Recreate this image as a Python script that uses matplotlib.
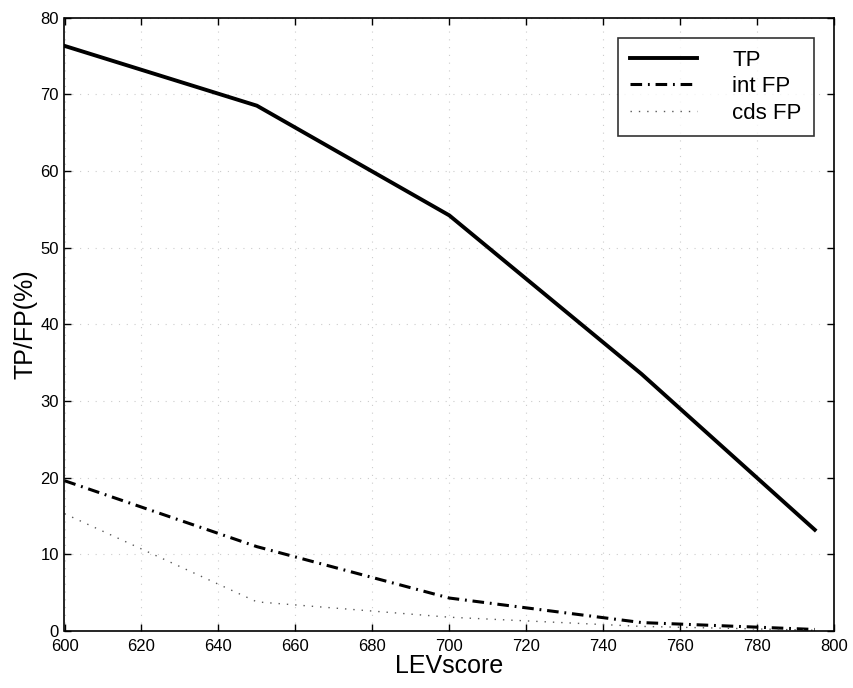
import matplotlib
matplotlib.use("Agg")
import matplotlib.pyplot as plt

# Data
lev_score = [600, 650, 700, 750, 795]
tp = [76.3, 68.5, 54.2, 33.5, 13.2]
int_fp = [19.6, 11.0, 4.3, 1.1, 0.2]
cds_fp = [15.3, 3.8, 1.8, 0.6, 0.1]

x_ticks = list(range(600, 801, 20))
y_ticks = list(range(0, 81, 10))

plt.rcParams['font.family'] = ['Liberation Sans', 'DejaVu Sans']

W, H = 854, 688
left, right, top, bottom = 64.5, 834, 17.5, 631
fig = plt.figure(figsize=(W / 100, H / 100), dpi=100)
ax = fig.add_axes([left / W, 1 - bottom / H, (right - left) / W, (bottom - top) / H])

ax.plot(lev_score, tp, color='black', linestyle='-', linewidth=2.8, label='TP')
ax.plot(lev_score, int_fp, color='black', linestyle=(0, (3.8, 1.9, 0.6, 1.9)), linewidth=2.2, label='int FP')
ax.plot(lev_score, cds_fp, color='0.35', linestyle=(0, (1, 5)), linewidth=1.0, label='cds FP')

ax.set_xlim(600, 800)
ax.set_ylim(0, 80)
ax.set_xticks(x_ticks)
ax.set_yticks(y_ticks)
ax.tick_params(direction='in', top=True, right=True, length=5, width=1.0, labelsize=12)
ax.tick_params(axis='x', pad=6)
ax.tick_params(axis='y', pad=4)
ax.grid(True, color='0.8', linestyle=(0, (1, 6)), linewidth=0.8)
for s in ax.spines.values():
    s.set_linewidth(1.2)

ax.set_xlabel('LEVscore', fontsize=18, labelpad=0)
ax.set_ylabel('TP/FP(%)', fontsize=18, labelpad=2)

leg = ax.legend(loc='upper right', fontsize=16, frameon=True, fancybox=False,
                edgecolor='black', handlelength=3.0, handletextpad=1.6,
                borderaxespad=0.9, labelspacing=0.25, borderpad=0.55)
leg.get_frame().set_linewidth(1.2)

fig.savefig('out.png', dpi=100)
